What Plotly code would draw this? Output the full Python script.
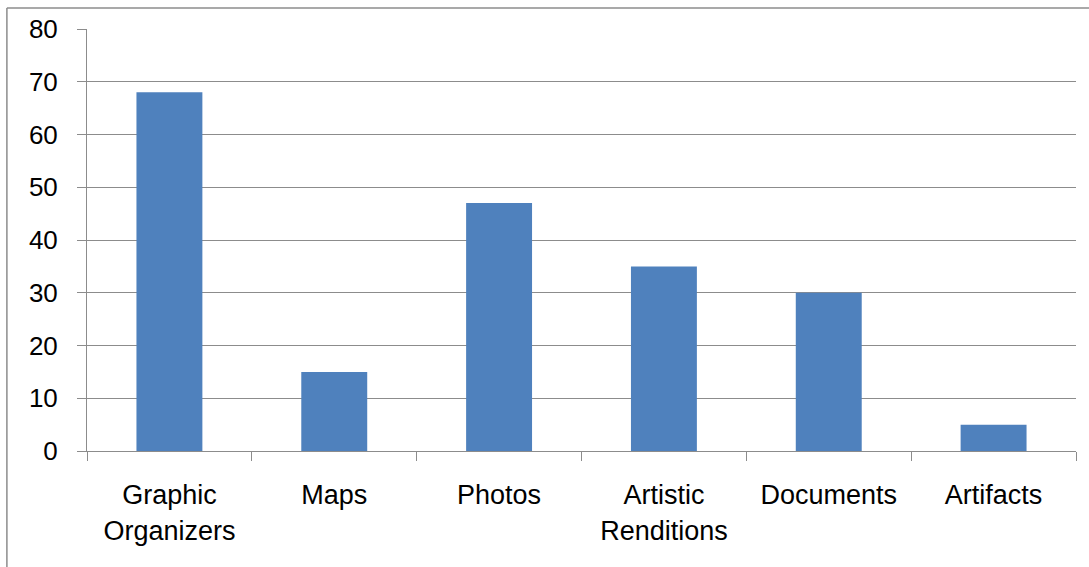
import plotly.graph_objects as go

# Counts of visual source types
categories = ["Graphic<br>Organizers", "Maps", "Photos", "Artistic<br>Renditions", "Documents", "Artifacts"]
counts = [68, 15, 47, 35, 30, 5]
y_ticks = [0, 10, 20, 30, 40, 50, 60, 70, 80]

bar_color = "#4F81BD"
line_gray = "#8C8C8C"
font_family = "Liberation Sans, Arial, sans-serif"

fig = go.Figure(
    go.Bar(x=categories, y=counts, marker=dict(color=bar_color, line=dict(width=0)))
)

fig.update_layout(
    width=1089,
    height=567,
    margin=dict(l=87, r=13, t=29, b=116),
    paper_bgcolor="white",
    plot_bgcolor="white",
    bargap=0.6,
    showlegend=False,
    font=dict(family=font_family, size=26, color="black"),
    shapes=[
        # outer chart frame (left and top edges visible)
        dict(type="line", xref="paper", yref="paper", x0=-0.081, x1=-0.081, y0=-0.6, y1=1.0498,
             line=dict(color=line_gray, width=1.5)),
        dict(type="line", xref="paper", yref="paper", x0=-0.081, x1=1.1, y0=1.0498, y1=1.0498,
             line=dict(color=line_gray, width=1.5)),
    ],
)

fig.update_xaxes(
    type="category",
    range=[-0.5, 5.5],
    tickson="boundaries",
    ticks="outside",
    ticklen=9,
    tickcolor=line_gray,
    tickwidth=1,
    showline=True,
    linecolor=line_gray,
    linewidth=1,
    showgrid=False,
    ticklabelstandoff=20,
    tickfont=dict(family=font_family, size=27, color="black"),
)

fig.update_yaxes(
    range=[0, 80],
    tickvals=y_ticks,
    ticks="outside",
    ticklen=9,
    tickcolor=line_gray,
    tickwidth=1,
    showline=True,
    linecolor=line_gray,
    linewidth=1,
    showgrid=True,
    gridcolor=line_gray,
    gridwidth=1,
    zeroline=False,
    ticklabelstandoff=14,
    tickfont=dict(family=font_family, size=26, color="black"),
)

fig.write_html("out.html")
